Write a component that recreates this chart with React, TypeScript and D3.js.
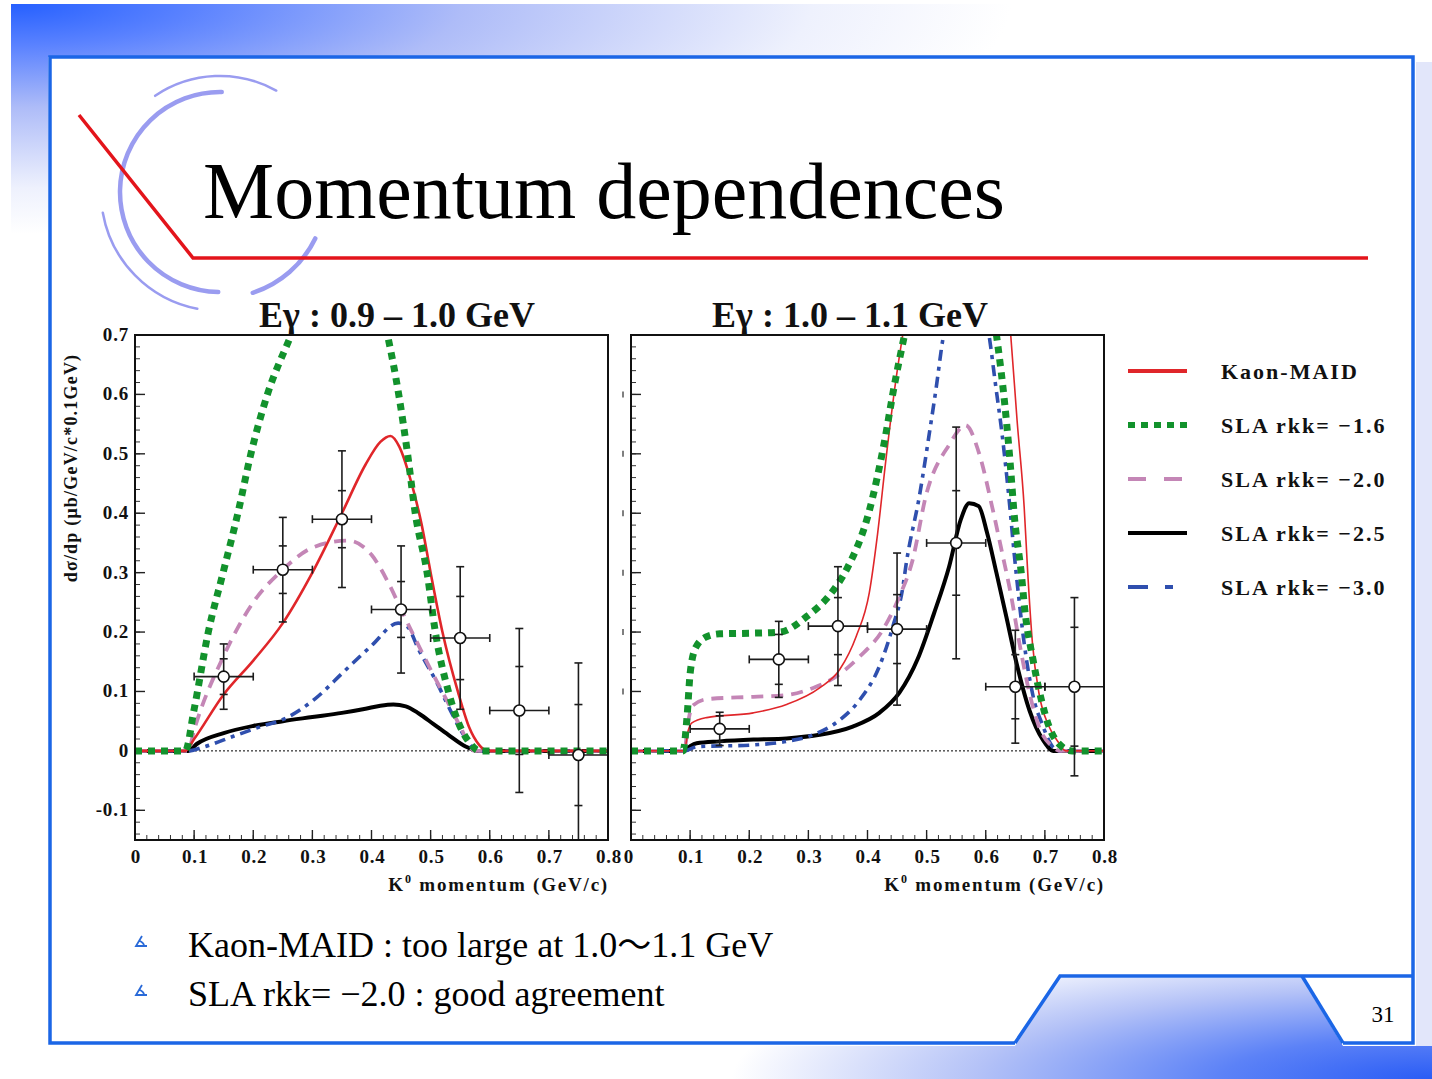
import React from "react";
import * as d3 from "d3";

const SERIF = "'Liberation Serif','Times New Roman',serif";
const W = 1432;
const H = 1079;

// ---------------- data ----------------
const xTickValues = [0, 0.1, 0.2, 0.3, 0.4, 0.5, 0.6, 0.7, 0.8];
const xTickLabels = ["0", "0.1", "0.2", "0.3", "0.4", "0.5", "0.6", "0.7", "0.8"];
const yTickValues = [-0.1, 0, 0.1, 0.2, 0.3, 0.4, 0.5, 0.6, 0.7];
const yTickLabels = ["-0.1", "0", "0.1", "0.2", "0.3", "0.4", "0.5", "0.6", "0.7"];

const panelTitles = ["Eγ : 0.9 – 1.0 GeV", "Eγ : 1.0 – 1.1 GeV"];
const legendLabels = ["Kaon-MAID", "SLA rkk= −1.6", "SLA rkk= −2.0", "SLA rkk= −2.5", "SLA rkk= −3.0"];

// data points (K0 momentum bin centres)
const binCenters = [0.15, 0.25, 0.35, 0.45, 0.55, 0.65, 0.75];
const binHalfWidth = 0.05;
const leftValues = [0.125, 0.305, 0.39, 0.238, 0.19, 0.068, -0.007];
const leftStatErr = [0.03, 0.04, 0.048, 0.047, 0.07, 0.074, 0.085];
const leftTotErr = [0.055, 0.088, 0.115, 0.107, 0.12, 0.138, 0.155];
const rightValues = [0.037, 0.154, 0.21, 0.205, 0.35, 0.108, 0.108];
const rightStatErr = [0.022, 0.042, 0.048, 0.058, 0.088, 0.054, 0.1];
const rightTotErr = [0.028, 0.064, 0.1, 0.128, 0.195, 0.095, 0.15];

// model curves, Eγ 0.9-1.0 GeV
const leftMaid = [[0, 0], [0.085, 0], [0.1, 0.02], [0.15, 0.095], [0.2, 0.152], [0.25, 0.215], [0.3, 0.3], [0.35, 0.4], [0.39, 0.482], [0.415, 0.52], [0.432, 0.53], [0.447, 0.512], [0.465, 0.46], [0.485, 0.38], [0.5, 0.3], [0.52, 0.2], [0.546, 0.1], [0.565, 0.04], [0.582, 0.01], [0.595, 0], [0.8, 0]];
const leftRkk16 = [[0, 0], [0.085, 0], [0.1, 0.07], [0.124, 0.2], [0.149, 0.3], [0.174, 0.4], [0.196, 0.5], [0.224, 0.6], [0.264, 0.7], [0.3, 0.79], [0.36, 0.87], [0.4, 0.8], [0.427, 0.7], [0.446, 0.6], [0.461, 0.5], [0.474, 0.4], [0.494, 0.3], [0.508, 0.2], [0.53, 0.1], [0.546, 0.05], [0.565, 0.015], [0.583, 0], [0.8, 0]];
const leftRkk20 = [[0, 0], [0.09, 0], [0.1, 0.035], [0.15, 0.16], [0.2, 0.25], [0.25, 0.305], [0.3, 0.342], [0.36, 0.354], [0.4, 0.33], [0.43, 0.28], [0.45, 0.238], [0.5, 0.137], [0.53, 0.08], [0.55, 0.041], [0.574, 0], [0.8, 0]];
const leftRkk25 = [[0, 0], [0.09, 0], [0.105, 0.012], [0.15, 0.03], [0.2, 0.042], [0.25, 0.05], [0.3, 0.057], [0.35, 0.064], [0.39, 0.071], [0.415, 0.076], [0.437, 0.078], [0.458, 0.075], [0.48, 0.063], [0.505, 0.045], [0.53, 0.027], [0.56, 0.007], [0.58, 0], [0.8, 0]];
const leftRkk30 = [[0, 0], [0.09, 0], [0.1175, 0.007], [0.1675, 0.025], [0.21, 0.04], [0.255, 0.055], [0.305, 0.088], [0.355, 0.135], [0.399, 0.176], [0.445, 0.215], [0.46, 0.21], [0.48, 0.17], [0.511, 0.114], [0.536, 0.063], [0.561, 0.019], [0.58, 0], [0.8, 0]];

// model curves, Eγ 1.0-1.1 GeV
const rightMaid = [[0, 0], [0.09, 0], [0.097, 0.035], [0.103, 0.047], [0.128, 0.056], [0.207, 0.064], [0.263, 0.078], [0.319, 0.106], [0.353, 0.137], [0.381, 0.193], [0.403, 0.266], [0.417, 0.365], [0.431, 0.489], [0.448, 0.624], [0.46, 0.703], [0.5, 0.95], [0.55, 1.05], [0.6, 0.95], [0.642, 0.703], [0.653, 0.556], [0.665, 0.41], [0.671, 0.3], [0.679, 0.181], [0.69, 0.097], [0.707, 0.041], [0.724, 0.013], [0.735, 0], [0.8, 0]];
const rightRkk16 = [[0, 0], [0.088, 0], [0.095, 0.06], [0.1, 0.13], [0.11, 0.175], [0.13, 0.193], [0.15, 0.197], [0.2, 0.198], [0.252, 0.2], [0.297, 0.226], [0.342, 0.27], [0.366, 0.308], [0.403, 0.404], [0.428, 0.517], [0.445, 0.613], [0.462, 0.697], [0.5, 0.86], [0.54, 0.95], [0.58, 0.88], [0.62, 0.686], [0.632, 0.585], [0.64, 0.5], [0.649, 0.388], [0.66, 0.3], [0.666, 0.238], [0.68, 0.153], [0.694, 0.086], [0.707, 0.041], [0.729, 0.007], [0.746, 0], [0.8, 0]];
const rightRkk20 = [[0, 0], [0.09, 0], [0.097, 0.05], [0.103, 0.075], [0.128, 0.087], [0.207, 0.091], [0.263, 0.094], [0.308, 0.106], [0.342, 0.122], [0.387, 0.159], [0.426, 0.204], [0.454, 0.26], [0.476, 0.32], [0.499, 0.43], [0.538, 0.515], [0.566, 0.548], [0.589, 0.5], [0.611, 0.41], [0.628, 0.332], [0.642, 0.266], [0.657, 0.181], [0.674, 0.097], [0.69, 0.041], [0.713, 0.007], [0.725, 0], [0.8, 0]];
const rightRkk25 = [[0, 0], [0.09, 0], [0.1, 0.008], [0.111, 0.013], [0.15, 0.016], [0.207, 0.019], [0.263, 0.021], [0.319, 0.027], [0.375, 0.041], [0.42, 0.064], [0.454, 0.098], [0.485, 0.155], [0.512, 0.23], [0.538, 0.31], [0.558, 0.39], [0.572, 0.417], [0.588, 0.412], [0.602, 0.368], [0.618, 0.3], [0.635, 0.225], [0.652, 0.148], [0.674, 0.068], [0.697, 0.018], [0.715, 0], [0.8, 0]];
const rightRkk30 = [[0, 0], [0.09, 0], [0.111, 0.007], [0.207, 0.01], [0.263, 0.016], [0.308, 0.027], [0.353, 0.052], [0.387, 0.086], [0.42, 0.142], [0.443, 0.21], [0.46, 0.277], [0.465, 0.312], [0.488, 0.43], [0.505, 0.537], [0.516, 0.61], [0.527, 0.69], [0.56, 0.8], [0.59, 0.77], [0.605, 0.703], [0.617, 0.613], [0.628, 0.53], [0.64, 0.418], [0.648, 0.333], [0.655, 0.266], [0.665, 0.181], [0.679, 0.097], [0.697, 0.041], [0.713, 0.007], [0.725, 0], [0.8, 0]];

// bullet text, split around the full-width wave dash
const bulletTexts = [
  ["Kaon-MAID : too large at 1.0", "～", "1.1 GeV"],
  ["SLA rkk= −2.0 : good agreement", "", ""],
];

// ---------------- styles ----------------
const seriesStyles = [
  { color: "#e0262a", width: 2.6, dash: "" },          // Kaon-MAID
  { color: "#12922c", width: 7, dash: "7 6" },         // rkk -1.6
  { color: "#c486b6", width: 3.8, dash: "12 8" },      // rkk -2.0
  { color: "#000000", width: 4, dash: "" },            // rkk -2.5
  { color: "#2f4fae", width: 3.6, dash: "11 6 4 6" },  // rkk -3.0
];
const legendDash = ["", "7 6", "18 18", "", "20 17 8 40"];

const TOP = 335;
const BOTTOM = 840;
const PW = 473;

function ST({ x, y, anchor = "start", size = 17, weight = "bold", ls = 2.5, children, rotate = 0 }: any) {
  return (
    <text
      transform={`translate(${x},${y})${rotate ? ` rotate(${rotate})` : ""}`}
      textAnchor={anchor}
      fontFamily={SERIF}
      fontWeight={weight}
      fontSize={size}
      letterSpacing={ls}
      fill="#111"
    >
      {children}
    </text>
  );
}

function Panel({ left, title, titleX, values, statErr, totErr, curves, showY, thinMaid }: any) {
  const x = d3.scaleLinear().domain([0, 0.8]).range([left, left + PW]);
  const y = d3.scaleLinear().domain([-0.15, 0.7]).range([BOTTOM, TOP]);
  const line = d3
    .line<number[]>()
    .x((d) => x(d[0]))
    .y((d) => y(d[1]))
    .curve(d3.curveMonotoneX);
  const clipId = `clip-${left}`;
  const minorY = d3.range(-7, 36).map((i) => i * 0.02);
  const minorX = d3.range(0, 41).map((i) => i * 0.02);
  const ek = "#1c1c1c";
  const order = [3, 4, 2, 0, 1];
  return (
    <g>
      <defs>
        <clipPath id={clipId}>
          <rect x={left} y={TOP} width={PW} height={BOTTOM - TOP} />
        </clipPath>
      </defs>
      {minorY.map((v, i) => (
        <line key={"my" + i} x1={left} x2={left + 5} y1={y(v)} y2={y(v)} stroke="#333" strokeWidth={1} />
      ))}
      {yTickValues.map((v, i) => (
        <line key={"My" + i} x1={left} x2={left + 10} y1={y(v)} y2={y(v)} stroke="#222" strokeWidth={1.4} />
      ))}
      {minorX.map((v, i) => (
        <line key={"mx" + i} x1={x(v)} x2={x(v)} y1={BOTTOM} y2={BOTTOM - 5} stroke="#333" strokeWidth={1} />
      ))}
      {xTickValues.map((v, i) => (
        <line key={"Mx" + i} x1={x(v)} x2={x(v)} y1={BOTTOM} y2={BOTTOM - 10} stroke="#222" strokeWidth={1.4} />
      ))}
      {!showY &&
        yTickValues.slice(2, 8).map((v, i) => (
          <line key={"ghost" + i} x1={left - 8} x2={left - 8} y1={y(v) - 3} y2={y(v) + 3} stroke="#555" strokeWidth={1.5} />
        ))}
      <line x1={x(0)} x2={x(0.8)} y1={y(0)} y2={y(0)} stroke="#000" strokeWidth={1} strokeDasharray="2 2" />
      <g clipPath={`url(#${clipId})`}>
        {order.map((si) => {
          const st = seriesStyles[si];
          const w = si === 0 && thinMaid ? 1.6 : st.width;
          return (
            <path
              key={"c" + si}
              d={line(curves[si] as any) || ""}
              fill="none"
              stroke={st.color}
              strokeWidth={w}
              strokeDasharray={st.dash || undefined}
              strokeLinejoin="round"
            />
          );
        })}
        {binCenters.map((bx, i) => {
          const cx = x(bx);
          const cy = y(values[i]);
          const yt = y(values[i] + totErr[i]);
          const yb = y(values[i] - totErr[i]);
          const ys1 = y(values[i] + statErr[i]);
          const ys2 = y(values[i] - statErr[i]);
          const xl = x(bx - binHalfWidth);
          const xr = x(bx + binHalfWidth);
          return (
            <g key={"p" + i} stroke={ek} strokeWidth={1.6} fill="none">
              <line x1={cx} x2={cx} y1={yt} y2={yb} />
              <line x1={cx - 4} x2={cx + 4} y1={yt} y2={yt} />
              <line x1={cx - 4} x2={cx + 4} y1={yb} y2={yb} />
              <line x1={cx - 4} x2={cx + 4} y1={ys1} y2={ys1} />
              <line x1={cx - 4} x2={cx + 4} y1={ys2} y2={ys2} />
              <line x1={xl} x2={xr} y1={cy} y2={cy} />
              <line x1={xl} x2={xl} y1={cy - 4} y2={cy + 4} />
              <line x1={xr} x2={xr} y1={cy - 4} y2={cy + 4} />
              <circle cx={cx} cy={cy} r={5.5} fill="#fff" stroke="#111" strokeWidth={1.6} />
            </g>
          );
        })}
      </g>
      <rect x={left} y={TOP} width={PW} height={BOTTOM - TOP} fill="none" stroke="#111" strokeWidth={2} />
      {showY &&
        yTickValues.map((v, i) => (
          <ST key={"yl" + i} x={129} y={y(v) + 6} anchor="end" size={19} ls={0.8}>
            {yTickLabels[i]}
          </ST>
        ))}
      {xTickValues.map((v, i) => (
        <ST key={"xl" + i} x={x(v) + (!showY && i === 0 ? -2 : 1)} y={863} anchor="middle" size={19} ls={0.8}>
          {xTickLabels[i]}
        </ST>
      ))}
      <text
        transform={`translate(${left + PW + 1},891)`}
        textAnchor="end"
        fontFamily={SERIF}
        fontWeight="bold"
        fontSize={19}
        letterSpacing={1.8}
        fill="#111"
      >
        K<tspan fontSize={12} dy={-8}>0</tspan>
        <tspan dy={8}> momentum (GeV/c)</tspan>
      </text>
      <text x={titleX} y={327} textAnchor="middle" fontFamily={SERIF} fontWeight="bold" fontSize={36} fill="#111">
        {title}
      </text>
    </g>
  );
}

function arcPath(cx: number, cy: number, r: number, a0: number, a1: number) {
  const rad = Math.PI / 180;
  const x0 = cx + r * Math.cos(a0 * rad);
  const y0 = cy + r * Math.sin(a0 * rad);
  const x1 = cx + r * Math.cos(a1 * rad);
  const y1 = cy + r * Math.sin(a1 * rad);
  const sweep = a1 > a0 ? 1 : 0;
  const large = Math.abs(a1 - a0) > 180 ? 1 : 0;
  return `M${x0},${y0} A${r},${r} 0 ${large} ${sweep} ${x1},${y1}`;
}

export default function App() {
  const leftCurves = [leftMaid, leftRkk16, leftRkk20, leftRkk25, leftRkk30];
  const rightCurves = [rightMaid, rightRkk16, rightRkk20, rightRkk25, rightRkk30];
  const legendRows = [371, 425, 479, 533, 587];
  const blue = "#1b66e6";
  return (
    <svg
      width={W}
      height={H}
      viewBox={`0 0 ${W} ${H}`}
      style={{ position: "absolute", left: 0, top: 0, background: "#fff" }}
    >
      <defs>
        <radialGradient id="bgTL" cx={0} cy={0} r={1} gradientUnits="userSpaceOnUse" gradientTransform="translate(11,4) scale(1000,230)">
          <stop offset="0" stopColor="#2660ff" />
          <stop offset="0.18" stopColor="#5a82ff" />
          <stop offset="0.45" stopColor="#aebcf8" />
          <stop offset="0.8" stopColor="#eef1fd" />
          <stop offset="1" stopColor="#ffffff" />
        </radialGradient>
        <radialGradient id="bgBR" cx={0} cy={0} r={1} gradientUnits="userSpaceOnUse" gradientTransform="translate(1432,1079) scale(700,140)">
          <stop offset="0" stopColor="#2a5cf5" />
          <stop offset="0.3" stopColor="#5c82f7" />
          <stop offset="0.65" stopColor="#b4c2f7" />
          <stop offset="1" stopColor="#ffffff" />
        </radialGradient>
      </defs>
      <rect x={0} y={0} width={W} height={H} fill="#fff" />
      <path d="M11,4 H1432 V57 H48 V1079 H11 Z" fill="url(#bgTL)" />
      <rect x={1416} y={62} width={16} height={1017} fill="#e2e6fa" />
      <rect x={56} y={1046} width={960} height={8} fill="#e8ebfa" />
      <path d="M0,1046 H1015 L1060,978 H1302 L1343,1046 H1432 V1079 H0 Z" fill="url(#bgBR)" />
      <path d="M1015,1043 H50 V57 H1413 V1043 H1343" fill="none" stroke={blue} strokeWidth={3.5} />
      <path d="M1015,1043 L1060,976 H1413" fill="none" stroke={blue} strokeWidth={3.5} />
      <path d="M1302,976 L1343,1043" fill="none" stroke={blue} strokeWidth={3.5} />
      <g fill="none" stroke="#9a9cf0" strokeLinecap="round">
        <path d={arcPath(220, 192, 100, -89, -269)} strokeWidth={4.5} />
        <path d={arcPath(220, 192, 116, -124, -61)} strokeWidth={2.5} />
        <path d={arcPath(220, 192, 119, 170, 101)} strokeWidth={2.5} />
        <path d={arcPath(220, 192, 106, 26, 72)} strokeWidth={4.5} />
      </g>
      <polyline points="79,115 193,258 1368,258" fill="none" stroke="#e3141b" strokeWidth={3.5} />
      <text x={203} y={218} fontFamily={SERIF} fontSize={80} fill="#000">
        Momentum dependences
      </text>

      <Panel
        left={135}
        title={panelTitles[0]}
        titleX={397}
        values={leftValues}
        statErr={leftStatErr}
        totErr={leftTotErr}
        curves={leftCurves}
        showY={true}
        thinMaid={false}
      />
      <Panel
        left={631}
        title={panelTitles[1]}
        titleX={850}
        values={rightValues}
        statErr={rightStatErr}
        totErr={rightTotErr}
        curves={rightCurves}
        showY={false}
        thinMaid={true}
      />
      <ST x={77} y={468} anchor="middle" size={18} ls={1.2} rotate={-90}>
        dσ/dp (μb/GeV/c*0.1GeV)
      </ST>

      {legendLabels.map((lab, i) => {
        const st = seriesStyles[i];
        return (
          <g key={"lg" + i}>
            <line
              x1={1128}
              x2={1187}
              y1={legendRows[i]}
              y2={legendRows[i]}
              stroke={st.color}
              strokeWidth={i === 1 ? 6 : 4}
              strokeDasharray={legendDash[i] || undefined}
            />
            <ST x={1221} y={legendRows[i] + 8} size={22} ls={2}>
              {lab}
            </ST>
          </g>
        );
      })}

      {bulletTexts.map((parts, i) => {
        const by = 957 + i * 49;
        return (
          <g key={"b" + i}>
            <path
              d={`M142,${by - 21} L136,${by - 11} L147,${by - 11} M140,${by - 16} Q144,${by - 14} 144,${by - 11}`}
              fill="none"
              stroke="#2a6ad8"
              strokeWidth={1.8}
            />
            <text x={188} y={by} fontFamily={SERIF} fontSize={36} fill="#000">
              {parts[0]}
              {parts[1] ? (
                <tspan fontFamily="'Noto Sans CJK JP','Noto Sans CJK SC',sans-serif" fontSize={34}>
                  {parts[1]}
                </tspan>
              ) : null}
              {parts[2] ? <tspan>{parts[2]}</tspan> : null}
            </text>
          </g>
        );
      })}
      <text x={1383} y={1022} textAnchor="middle" fontFamily={SERIF} fontSize={23} fill="#000">
        31
      </text>
    </svg>
  );
}
